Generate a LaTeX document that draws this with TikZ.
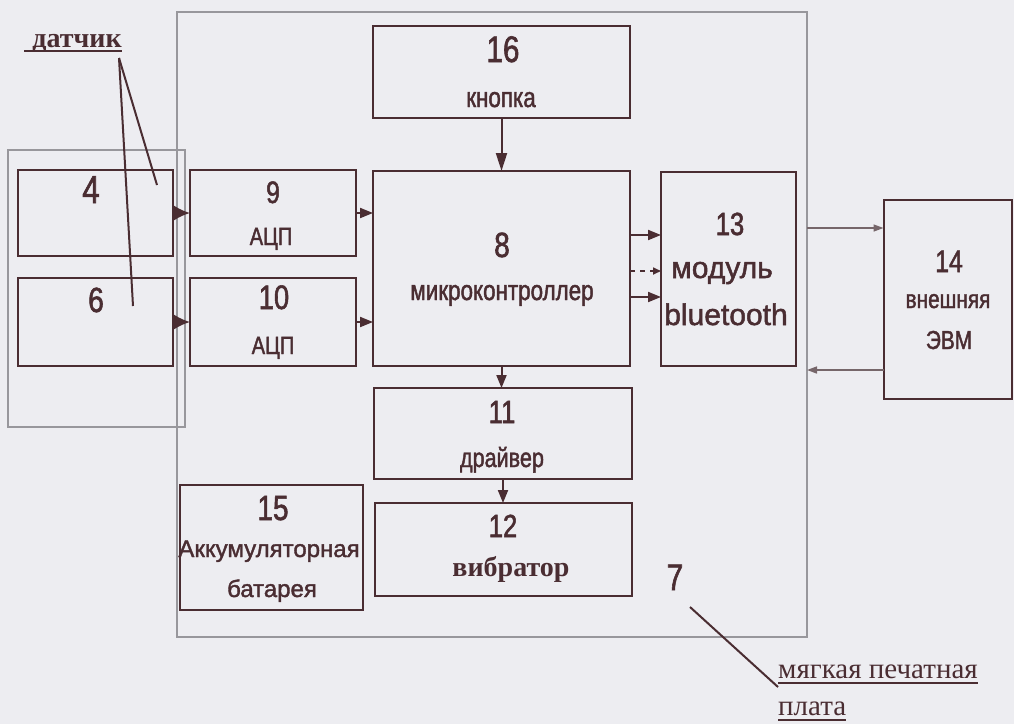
\documentclass[tikz,border=0pt]{standalone}
\usepackage{fontspec}
\setmainfont{Liberation Serif}
\newfontfamily\bnarrow[FakeStretch=0.8, FakeBold=1.6]{Liberation Sans}
\newfontfamily\bsans[FakeBold=1.6]{Liberation Sans}
\usepackage{tikz}
\usetikzlibrary{arrows.meta, positioning, calc}
\definecolor{schline}{HTML}{4A2D32}
\definecolor{schgray}{HTML}{98979C}
\definecolor{schthin}{HTML}{76666A}
\definecolor{schpaper}{HTML}{EDEDF1}
\tikzset{
  blk/.style={draw=schline, line width=2pt, inner sep=0pt, outer sep=0pt},
  frame/.style={draw=schgray, line width=1.4pt, inner sep=0pt, outer sep=0pt},
  num/.style={anchor=base, inner sep=0pt, text=schline,
              font=\bnarrow\fontsize{#1}{#1}\selectfont},
  num/.default=33pt,
  lbl/.style={anchor=base, inner sep=0pt, text=schline,
              font=\bnarrow\fontsize{#1}{#1}\selectfont},
  lbl/.default=27pt,
  wlbl/.style={anchor=base, inner sep=0pt, text=schline,
               font=\bsans\fontsize{#1}{#1}\selectfont},
  note/.style={inner sep=0pt, text=schline,
               font=\fontsize{#1}{#1}\selectfont},
  bnote/.style={inner sep=0pt, text=schline,
                font=\bfseries\fontsize{#1}{#1}\selectfont},
  arrow/.style={-{Triangle[length=13pt,width=10pt]}, line width=2pt, draw=schline},
  bigarr/.style={-{Latex[length=16pt,width=15pt]}, line width=2pt, draw=schline},
  dasharr/.style={-{Triangle[length=8pt,width=7pt]}, line width=1.6pt, draw=schline,
                  dash pattern=on 5pt off 5pt},
  thinarr/.style={-{Triangle[length=10pt,width=7pt]}, line width=1.5pt, draw=schthin},
  lead/.style={line width=2pt, draw=schline},
  uline/.style={line width=1.8pt, draw=schline}
}

\begin{document}
\begin{tikzpicture}[x=1pt, y=-1pt]
    \fill[schpaper] (0,0) rectangle (1014,724);

    \node[frame, minimum width=630pt, minimum height=625pt] (b7) at (492,324.5) {};
    \node[frame, minimum width=177pt, minimum height=277pt] (sens) at (96.5,288.5) {};

    \node[blk, minimum width=155pt, minimum height=86pt] (b4) at (95.5,213) {};
    \node[blk, minimum width=155pt, minimum height=88pt] (b6) at (95.5,322) {};
    \node[blk, minimum width=166pt, minimum height=86pt] (b9) at (273,213) {};
    \node[blk, minimum width=166pt, minimum height=88pt] (b10) at (273,322) {};
    \node[blk, minimum width=257pt, minimum height=92pt] (b16) at (501.5,72) {};
    \node[blk, minimum width=257pt, minimum height=195pt] (b8) at (501.5,268.5) {};
    \node[blk, minimum width=135pt, minimum height=194pt] (b13) at (728.5,269) {};
    \node[blk, minimum width=128pt, minimum height=199pt] (b14) at (947.5,299) {};
    \node[blk, minimum width=258pt, minimum height=91pt] (b11) at (503,433.5) {};
    \node[blk, minimum width=257pt, minimum height=93pt] (b12) at (503.5,549.5) {};
    \node[blk, minimum width=183pt, minimum height=125pt] (b15) at (271.5,547.5) {};

    \node[num=39pt] (n4) at (91,203) {4};
    \node[num=35pt] (n6) at (96,312) {6};
    \node[num=31pt] (n9) at (273,203) {9};
    \node[lbl=25pt] (t9) at (271,245) {АЦП};
    \node[num=34pt] (n10) at (274,309) {10};
    \node[lbl=25pt] (t10) at (273,354) {АЦП};
    \node[num=37pt] (n16) at (503,62) {16};
    \node[lbl=28pt] (t16) at (501,107) {кнопка};
    \node[num=35pt] (n8) at (502,257) {8};
    \node[lbl=28pt] (t8) at (502,300) {микроконтроллер};
    \node[num=32pt] (n13) at (730,235) {13};
    \node[wlbl=30pt] (t13a) at (722,278) {модуль};
    \node[wlbl=30pt] (t13b) at (726,325) {bluetooth};
    \node[num=31pt] (n14) at (949,272) {14};
    \node[lbl=26pt] (t14a) at (948,308) {внешняя};
    \node[lbl=26pt] (t14b) at (949,349) {ЭВМ};
    \node[num=32pt] (n11) at (502,423) {11};
    \node[lbl=27pt] (t11) at (502,467) {драйвер};
    \node[num=32pt] (n12) at (503,537) {12};
    \node[bnote=28pt, anchor=base] (t12) at (511,576) {вибратор};
    \node[num=35pt] (n15) at (273,520) {15};
    \node[wlbl=24pt] (t15a) at (269,557) {Аккумуляторная};
    \node[wlbl=24pt] (t15b) at (272,597) {батарея};
    \node[num=37pt] (n7) at (675,590) {7};

    \node[bnote=28pt, anchor=base] (dat) at (77,47) {датчик};
    \node[note=29pt, anchor=base west] (pl1) at (778,678) {мягкая печатная};
    \node[note=29pt, anchor=base west] (pl2) at (778,715) {плата};

    \draw[uline] ([xshift=-8pt,yshift=-4pt]dat.base west) -- ([yshift=-4pt]dat.base east);
    \draw[uline] ([yshift=-5pt]pl1.base west) -- ([yshift=-5pt]pl1.base east);
    \draw[uline] ([yshift=-5pt]pl2.base west) -- ([yshift=-5pt]pl2.base east);

    \coordinate (dtp) at (119,58);
    \coordinate (s4) at (157,185);
    \coordinate (s6) at (133,306);
    \coordinate (p7) at (690,607);
    \draw[lead] (dtp) -- (s4);
    \draw[lead] (dtp) -- (s6);
    \draw[lead] (p7) -- ([yshift=-9pt]pl1.base west);

    \draw[bigarr] (b4) -- (b9);
    \draw[bigarr] (b6) -- (b10);
    \draw[arrow] (b9) -- (b9 -| b8.west);
    \draw[arrow] (b10) -- (b10 -| b8.west);
    \draw[arrow, -{Triangle[length=18pt,width=11pt]}] (b16) -- (b8);
    \draw[arrow] (b8.south) -- (b8.south |- b11.north);
    \draw[arrow] (b11.south) -- (b11.south |- b12.north);
    \draw[arrow] (b8.east |- 0,235) -- (b13.west |- 0,235);
    \draw[dasharr] (b8.east |- 0,271) -- (b13.west |- 0,271);
    \draw[arrow] (b8.east |- 0,297) -- (b13.west |- 0,297);
    \draw[thinarr] (b7.east |- 0,228) -- (b14.west |- 0,228);
    \draw[thinarr] (b14.west |- 0,370) -- (b7.east |- 0,370);
  \end{tikzpicture}
\end{document}
